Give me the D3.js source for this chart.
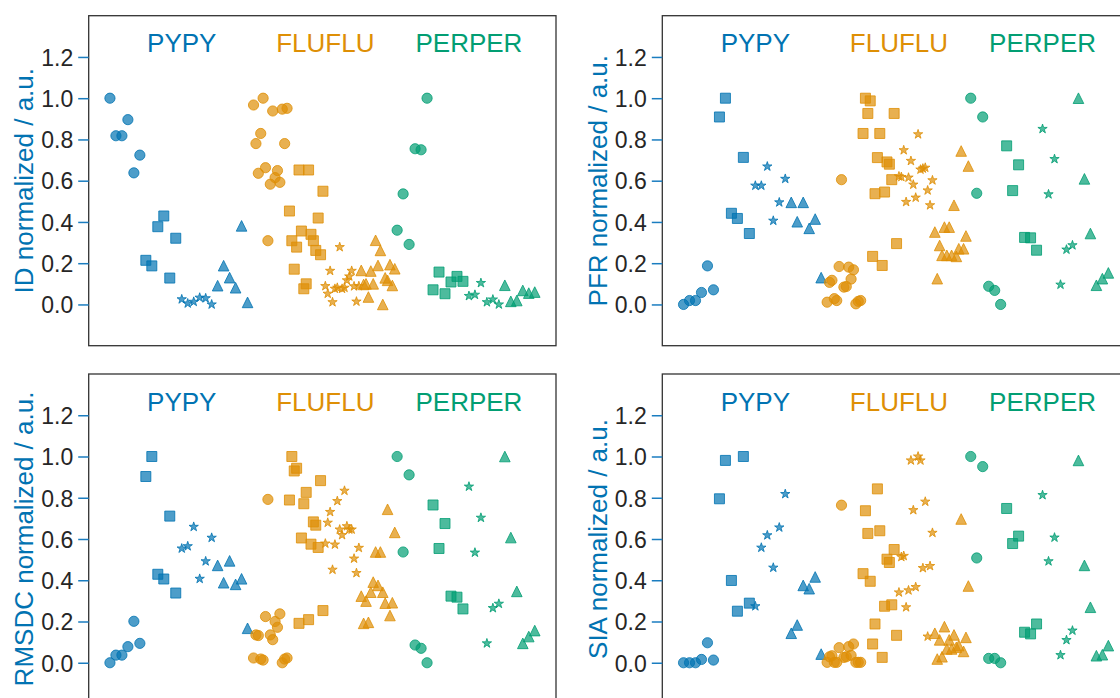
<!DOCTYPE html>
<html>
<head>
<meta charset="utf-8">
<script src="https://cdn.jsdelivr.net/npm/d3@7"></script>
<style>
  html, body { margin: 0; padding: 0; background: #ffffff; overflow: hidden; }
  svg { display: block; font-family: "Liberation Sans", Arial, sans-serif; }
</style>
</head>
<body>
<svg id="chart" width="1120" height="698"></svg>
<script>
// ---------------- data ----------------
const molecules = ["PYPY", "FLUFLU", "PERPER"];
const moleculeColors = ["#0173b2", "#de8f05", "#029e73"];
const markerTypes = ["circle", "square", "star", "triangle"];
const panelNames = ["ID", "PFR", "RMSDC", "SIA"];
const yTicks = [0.0, 0.2, 0.4, 0.6, 0.8, 1.0, 1.2];
const labelX = [2, 6, 10];

// each array: [circle, square, star, triangle]
const ID_PYPY = [
  [1.0, 0.818, 0.818, 0.896, 0.638, 0.724],
  [0.214, 0.187, 0.377, 0.429, 0.128, 0.321],
  [0.025, 0.005, 0.013, 0.033, 0.03, 0.0],
  [0.091, 0.188, 0.13, 0.081, 0.381, 0.01]
];
const ID_FLUFLU = [
  [0.967, 0.780, 0.636, 0.829, 1.0, 0.663, 0.309, 0.583, 0.938, 0.615, 0.649, 0.592, 0.947, 0.780, 0.951],
  [0.453, 0.309, 0.171, 0.278, 0.652, 0.356, 0.076, 0.100, 0.652, 0.340, 0.309, 0.262, 0.419, 0.241, 0.549],
  [0.089, 0.052, 0.163, 0.011, 0.076, 0.081, 0.278, 0.076, 0.081, 0.117, 0.136, 0.163, 0.088, 0.014, 0.089],
  [0.165, 0.097, 0.100, 0.036, 0.162, 0.100, 0.311, 0.189, 0.262, 0.0, 0.129, 0.117, 0.193, 0.092, 0.173]
];
const ID_PERPER = [
  [0.360, 0.536, 0.291, 0.755, 0.75, 1.0],
  [0.071, 0.157, 0.052, 0.109, 0.136, 0.112],
  [0.041, 0.047, 0.104, 0.011, 0.024, 0.0],
  [0.093, 0.015, 0.019, 0.068, 0.055, 0.06]
];

const PFR_PYPY = [
  [0.0, 0.019, 0.019, 0.058, 0.187, 0.071],
  [0.909, 1.0, 0.442, 0.417, 0.713, 0.344],
  [0.576, 0.576, 0.669, 0.406, 0.495, 0.609],
  [0.495, 0.401, 0.495, 0.369, 0.414, 0.130]
];
const PFR_FLUFLU = [
  [0.011, 0.107, 0.117, 0.028, 0.019, 0.184, 0.605, 0.084, 0.087, 0.181, 0.123, 0.168, 0.003, 0.015, 0.019],
  [0.829, 1.0, 0.926, 0.987, 0.233, 0.537, 0.712, 0.829, 0.189, 0.545, 0.691, 0.680, 0.605, 0.926, 0.295],
  [0.621, 0.618, 0.748, 0.497, 0.615, 0.696, 0.581, 0.518, 0.825, 0.654, 0.659, 0.663, 0.553, 0.481, 0.602],
  [0.351, 0.125, 0.286, 0.238, 0.375, 0.238, 0.375, 0.238, 0.481, 0.233, 0.270, 0.744, 0.270, 0.332, 0.671]
];
const PFR_PERPER = [
  [1.0, 0.539, 0.909, 0.088, 0.068, 0.0],
  [0.769, 0.552, 0.677, 0.325, 0.323, 0.263],
  [0.851, 0.534, 0.705, 0.096, 0.266, 0.287],
  [1.0, 0.609, 0.344, 0.093, 0.125, 0.153]
];

const RMSDC_PYPY = [
  [0.0, 0.037, 0.037, 0.078, 0.201, 0.094],
  [0.903, 1.0, 0.429, 0.406, 0.711, 0.338],
  [0.554, 0.565, 0.659, 0.407, 0.492, 0.606],
  [0.472, 0.388, 0.494, 0.380, 0.407, 0.167]
];
const RMSDC_FLUFLU = [
  [0.023, 0.135, 0.132, 0.018, 0.013, 0.224, 0.792, 0.135, 0.112, 0.200, 0.172, 0.237, 0.0, 0.018, 0.023],
  [0.789, 1.0, 0.930, 0.943, 0.191, 0.605, 0.771, 0.826, 0.209, 0.575, 0.683, 0.667, 0.559, 0.883, 0.253],
  [0.578, 0.679, 0.731, 0.451, 0.573, 0.784, 0.646, 0.619, 0.834, 0.662, 0.646, 0.646, 0.505, 0.435, 0.557],
  [0.323, 0.191, 0.299, 0.196, 0.342, 0.391, 0.537, 0.375, 0.537, 0.342, 0.289, 0.744, 0.229, 0.291, 0.632]
];
const RMSDC_PERPER = [
  [1.0, 0.537, 0.911, 0.086, 0.070, 0.0],
  [0.765, 0.554, 0.675, 0.323, 0.318, 0.261],
  [0.854, 0.534, 0.703, 0.094, 0.265, 0.286],
  [1.0, 0.607, 0.346, 0.094, 0.127, 0.156]
];

const SIA_PYPY = [
  [0.0, 0.0, 0.0, 0.016, 0.097, 0.013],
  [0.795, 0.981, 0.399, 0.25, 1.0, 0.289],
  [0.274, 0.558, 0.618, 0.461, 0.656, 0.818],
  [0.143, 0.183, 0.375, 0.359, 0.416, 0.042]
];
const SIA_FLUFLU = [
  [0.002, 0.029, 0.034, 0.002, 0.002, 0.073, 0.764, 0.026, 0.029, 0.078, 0.036, 0.091, 0.002, 0.002, 0.002],
  [0.432, 0.737, 0.627, 0.395, 0.091, 0.188, 0.843, 0.640, 0.026, 0.274, 0.502, 0.486, 0.281, 0.549, 0.133],
  [0.341, 0.513, 0.518, 0.269, 0.351, 0.981, 0.740, 0.367, 1.0, 0.981, 0.459, 0.781, 0.127, 0.469, 0.630],
  [0.143, 0.018, 0.111, 0.029, 0.175, 0.067, 0.111, 0.067, 0.135, 0.075, 0.083, 0.697, 0.055, 0.123, 0.372]
];
const SIA_PERPER = [
  [1.0, 0.508, 0.951, 0.021, 0.021, 0.0],
  [0.748, 0.578, 0.614, 0.148, 0.140, 0.188],
  [0.813, 0.492, 0.607, 0.037, 0.110, 0.156],
  [0.981, 0.472, 0.269, 0.034, 0.039, 0.083]
];

const panelData = {
  ID: [ID_PYPY, ID_FLUFLU, ID_PERPER],
  PFR: [PFR_PYPY, PFR_FLUFLU, PFR_PERPER],
  RMSDC: [RMSDC_PYPY, RMSDC_FLUFLU, RMSDC_PERPER],
  SIA: [SIA_PYPY, SIA_FLUFLU, SIA_PERPER]
};

// ---------------- layout ----------------
const panelW = 467.3, panelH = 330;
const panelOrigins = [[88.7, 15.7], [662.3, 15.7], [88.7, 374], [662.3, 374]];

const svg = d3.select("#chart");

// marker shapes
const triangleType = {
  draw(ctx, size) {
    const s = Math.sqrt(size);
    ctx.moveTo(0, -s / 2);
    ctx.lineTo(-s / 2, s / 2);
    ctx.lineTo(s / 2, s / 2);
    ctx.closePath();
  }
};
const starType = {
  draw(ctx, size) {
    const R = Math.sqrt(size) / 2, r = R * 0.381966;
    for (let i = 0; i < 10; i++) {
      const rad = i % 2 === 0 ? R : r;
      const a = -Math.PI / 2 + i * Math.PI / 5;
      const px = rad * Math.cos(a), py = rad * Math.sin(a);
      if (i === 0) ctx.moveTo(px, py); else ctx.lineTo(px, py);
    }
    ctx.closePath();
  }
};
const symbolTypes = {
  circle: [d3.symbolCircle, Math.PI * 5.1 * 5.1],
  square: [d3.symbolSquare, 10 * 10],
  star: [starType, 9.8 * 9.8],
  triangle: [triangleType, 10.6 * 10.6]
};

panelNames.forEach((name, pi) => {
  const [ox, oy] = panelOrigins[pi];
  const g = svg.append("g").attr("transform", `translate(${ox},${oy})`);

  // build points: x = groupIndex + j / n
  const points = [];
  panelData[name].forEach((molArr, mi) => {
    molArr.forEach((vals, ki) => {
      const gIdx = mi * 4 + ki;
      vals.forEach((v, j) => {
        points.push({ x: gIdx + j / vals.length, y: v, mol: mi, marker: markerTypes[ki] });
      });
    });
  });

  const xMin = 0, xMax = d3.max(points, d => d.x);
  const pad = (xMax - xMin) * 0.05;
  const x = d3.scaleLinear().domain([xMin - pad, xMax + pad]).range([0, panelW]);
  const y = d3.scaleLinear().domain([-0.2, 1.4]).range([panelH, 0]);

  // frame
  g.append("rect")
    .attr("x", 0).attr("y", 0)
    .attr("width", panelW).attr("height", panelH)
    .attr("fill", "none")
    .attr("stroke", "#333333")
    .attr("stroke-width", 1.3);

  // y axis
  const axis = g.append("g")
    .call(d3.axisLeft(y).tickValues(yTicks).tickSize(10.5).tickPadding(5)
      .tickFormat(d3.format(".1f")));
  axis.select(".domain").remove();
  axis.selectAll(".tick line").attr("stroke", "#1a7dc0").attr("stroke-width", 1.5);
  axis.selectAll(".tick text")
    .attr("fill", "#262626")
    .attr("font-size", "23px")
    .attr("font-family", "'Liberation Sans', Arial, sans-serif")
    .attr("dy", "0.36em");

  // y label
  g.append("text")
    .attr("transform", `translate(${-55.2},${panelH / 2}) rotate(-90)`)
    .attr("text-anchor", "middle")
    .attr("fill", "#0173b2")
    .attr("font-size", "26px")
    .text(`${name} normalized / a.u.`);

  // group labels
  molecules.forEach((m, mi) => {
    g.append("text")
      .attr("x", x(labelX[mi]))
      .attr("y", y(1.222))
      .attr("text-anchor", "middle")
      .attr("fill", moleculeColors[mi])
      .attr("font-size", "26px")
      .text(m);
  });

  // points
  const sym = d3.symbol();
  g.append("g").selectAll("path")
    .data(points)
    .join("path")
    .attr("transform", d => `translate(${x(d.x)},${y(d.y)})`)
    .attr("d", d => sym.type(symbolTypes[d.marker][0]).size(symbolTypes[d.marker][1])())
    .attr("fill", d => moleculeColors[d.mol])
    .attr("fill-opacity", 0.7)
    .attr("stroke", d => moleculeColors[d.mol])
    .attr("stroke-opacity", 0.8)
    .attr("stroke-width", 1);
});
</script>
</body>
</html>
